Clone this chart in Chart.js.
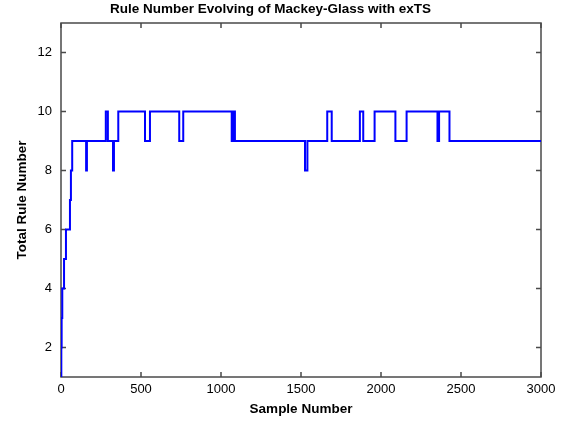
<!DOCTYPE html>
<html><head><meta charset="utf-8">
<script src="https://cdn.jsdelivr.net/npm/chart.js@4.4.1/dist/chart.umd.min.js"></script>
<style>html,body{margin:0;padding:0;background:#fff;}canvas{display:block;}</style>
</head><body>
<canvas id="c" width="570" height="423" style="width:570px;height:423px"></canvas>
<script>
const chartTitle = 'Rule Number Evolving of Mackey-Glass with exTS';
const xAxisTitle = 'Sample Number';
const yAxisTitle = 'Total Rule Number';
const sampleNumbers = [0, 2, 4, 8, 19, 31, 56, 62, 70, 157, 162, 280, 293, 325, 331, 358, 525, 556, 739, 764, 1067, 1077, 1087, 1525, 1540, 1664, 1692, 1868, 1889, 1960, 2090, 2160, 2353, 2363, 2428, 3000];
const ruleNumbers   = [1, 2, 3, 4, 5, 6, 7, 8, 9, 8, 9, 10, 9, 8, 9, 10, 9, 10, 9, 10, 9, 10, 9, 8, 9, 10, 9, 10, 9, 10, 9, 10, 9, 10, 9, 9];
const xTickValues = [0, 500, 1000, 1500, 2000, 2500, 3000];
const yTickValues = [2, 4, 6, 8, 10, 12];

const FONT = "'Liberation Sans', Arial, sans-serif";
const AXIS_COLOR = '#4a4a4a';

const boxPlugin = {
  id: 'matlabBox',
  beforeDatasetsDraw(chart) {
    const {ctx, chartArea: a, scales} = chart;
    ctx.save();
    ctx.strokeStyle = AXIS_COLOR;
    ctx.lineWidth = 1.5;
    ctx.strokeRect(a.left, a.top, a.right - a.left, a.bottom - a.top);
    const tl = 5;
    ctx.beginPath();
    scales.x.ticks.forEach(t => {
      const px = scales.x.getPixelForValue(t.value);
      ctx.moveTo(px, a.bottom); ctx.lineTo(px, a.bottom - tl);
      ctx.moveTo(px, a.top); ctx.lineTo(px, a.top + tl);
    });
    scales.y.ticks.forEach(t => {
      const py = scales.y.getPixelForValue(t.value);
      ctx.moveTo(a.left, py); ctx.lineTo(a.left + tl, py);
      ctx.moveTo(a.right, py); ctx.lineTo(a.right - tl, py);
    });
    ctx.stroke();
    ctx.restore();
  }
};

new Chart(document.getElementById('c'), {
  type: 'line',
  data: {
    datasets: [{
      data: sampleNumbers.map((x, i) => ({x: x, y: ruleNumbers[i]})),
      borderColor: '#0000ff',
      borderWidth: 2,
      stepped: true,
      fill: false,
      pointRadius: 0,
      tension: 0
    }]
  },
  options: {
    responsive: false,
    animation: false,
    devicePixelRatio: 1,
    layout: {padding: {left: 0, right: 29, top: 0, bottom: 0}},
    plugins: {
      legend: {display: false},
      tooltip: {enabled: false},
      title: {
        display: true, text: chartTitle, color: '#000',
        font: {family: FONT, size: 13.5, weight: 'bold', lineHeight: 1.2},
        padding: {top: 1, bottom: 5.8}
      }
    },
    scales: {
      x: {
        type: 'linear', min: 0, max: 3000,
        afterBuildTicks: s => { s.ticks = xTickValues.map(v => ({value: v})); },
        afterFit: s => { s.height = 46; },
        grid: {display: false, drawTicks: false},
        border: {display: false},
        ticks: {padding: 5, color: '#000', font: {family: FONT, size: 13}, maxRotation: 0, autoSkip: false, callback: v => String(v)},
        title: {display: true, text: xAxisTitle, color: '#000', font: {family: FONT, size: 13.5, weight: 'bold', lineHeight: 1.2}, padding: {top: 0, bottom: 6}}
      },
      y: {
        type: 'linear', min: 1, max: 13,
        afterBuildTicks: s => { s.ticks = yTickValues.map(v => ({value: v})); },
        afterFit: s => { s.width = 61; },
        grid: {display: false, drawTicks: false},
        border: {display: false},
        ticks: {padding: 9, color: '#000', font: {family: FONT, size: 13}, autoSkip: false, callback: v => String(v)},
        title: {display: true, text: yAxisTitle, color: '#000', font: {family: FONT, size: 13.5, weight: 'bold', lineHeight: 1.2}, padding: {top: 14, bottom: 0}}
      }
    }
  },
  plugins: [boxPlugin]
});
</script>
</body></html>
